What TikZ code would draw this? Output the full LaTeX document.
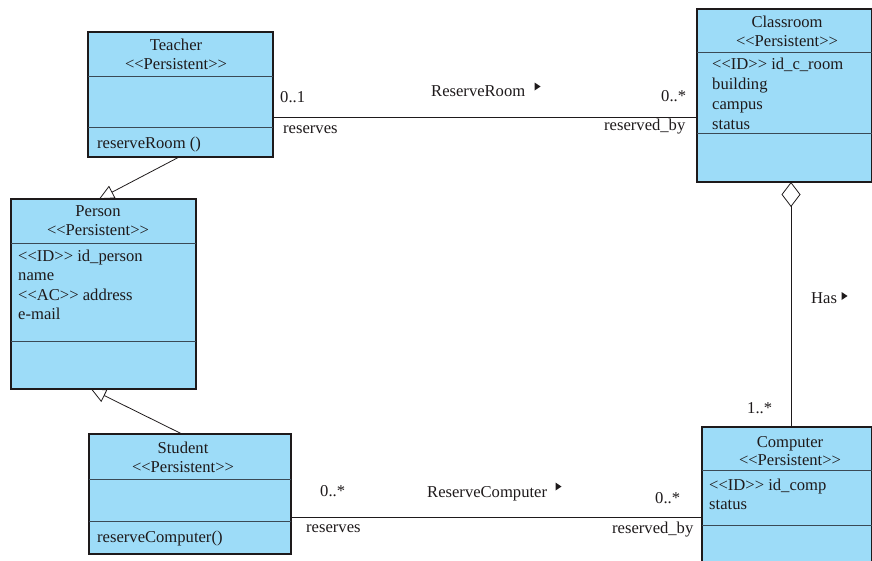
\documentclass[tikz,border=0pt]{standalone}
\usepackage{fontspec}
\setmainfont{Liberation Serif}[Ligatures=TeXOff]
\usetikzlibrary{arrows.meta}
\definecolor{boxfill}{HTML}{9DDCF8}
\definecolor{ink}{HTML}{1E1A1B}
\definecolor{rulecol}{HTML}{3A4A56}

\begin{document}
\begin{tikzpicture}[x=1pt,y=-1pt,
  font=\fontsize{16.6}{19}\selectfont, text=ink,
  classbox/.style={draw=ink, line width=1.2pt, fill=boxfill, anchor=north west,
    inner sep=0pt, outer sep=0pt},
  divider/.style={draw=rulecol, line width=0.9pt},
  cname/.style={inner sep=0pt, anchor=base},
  attr/.style={inner sep=0pt, anchor=base west},
  lbl/.style={inner sep=0pt, anchor=base west},
  assoc/.style={draw=ink, line width=0.8pt},
  gen/.style={draw=ink, line width=0.8pt,
    -{Triangle[open, length=15pt, width=14pt, line width=0.8pt]}},
  agg/.style={draw=ink, line width=0.8pt,
    {Diamond[open, length=25pt, width=19pt, line width=0.8pt]}-},
  dirmark/.style={fill=ink, draw=none},
]
\useasboundingbox (0,0) rectangle (872,560);
\clip (0,0) rectangle (872,560);

% ---------- Teacher ----------
\node[classbox, minimum width=185pt, minimum height=125pt] (teacher) at (88,32) {};
\draw[divider] (teacher.west |- 0,76) -- (teacher.east |- 0,76);
\draw[divider] (teacher.west |- 0,127) -- (teacher.east |- 0,127);
\node[cname] (teacherName) at (176,50) {Teacher};
\node[cname] (teacherSt) at (176,69) {<<Persistent>>};
\node[attr] (teacherOp) at (97,148) {reserveRoom ()};

% ---------- Person ----------
\node[classbox, minimum width=185pt, minimum height=190pt] (person) at (11,199) {};
\draw[divider] (person.west |- 0,243) -- (person.east |- 0,243);
\draw[divider] (person.west |- 0,341) -- (person.east |- 0,341);
\node[cname] (personName) at (98,216) {Person};
\node[cname] (personSt) at (98,235) {<<Persistent>>};
\node[attr] (pa1) at (18,261) {<<ID>> id\_person};
\node[attr] (pa2) at (18,280) {name};
\node[attr] (pa3) at (18,300) {<<AC>> address};
\node[attr] (pa4) at (18,319) {e-mail};

% ---------- Student ----------
\node[classbox, minimum width=202pt, minimum height=120pt] (student) at (89,434) {};
\draw[divider] (student.west |- 0,479) -- (student.east |- 0,479);
\draw[divider] (student.west |- 0,521) -- (student.east |- 0,521);
\node[cname] (studentName) at (183,453) {Student};
\node[cname] (studentSt) at (183,472) {<<Persistent>>};
\node[attr] (studentOp) at (97,542) {reserveComputer()};

% ---------- Classroom ----------
\node[classbox, minimum width=175pt, minimum height=173pt] (classroom) at (697,9) {};
\draw[divider] (classroom.west |- 0,52) -- (classroom.east |- 0,52);
\draw[divider] (classroom.west |- 0,133) -- (classroom.east |- 0,133);
\node[cname] (classroomName) at (787,27) {Classroom};
\node[cname] (classroomSt) at (787,46) {<<Persistent>>};
\node[attr] (ca1) at (712,69) {<<ID>> id\_c\_room};
\node[attr] (ca2) at (712,89) {building};
\node[attr] (ca3) at (712,109) {campus};
\node[attr] (ca4) at (712,129) {status};

% ---------- Computer ----------
\node[classbox, minimum width=170pt, minimum height=150pt] (computer) at (702,427) {};
\draw[divider] (computer.west |- 0,470) -- (computer.east |- 0,470);
\draw[divider] (computer.west |- 0,525) -- (computer.east |- 0,525);
\node[cname] (computerName) at (790,447) {Computer};
\node[cname] (computerSt) at (790,465) {<<Persistent>>};
\node[attr] (cpa1) at (709,490) {<<ID>> id\_comp};
\node[attr] (cpa2) at (709,509) {status};

% ---------- Generalisations ----------
\coordinate (teacherFoot) at (178,157.6);
\coordinate (personTopTip) at (99,199);
\coordinate (studentHead) at (182,434);
\coordinate (personBotTip) at (91,389);
\draw[gen] (teacherFoot) -- (personTopTip);
\draw[gen] (studentHead) -- (personBotTip);

% ---------- ReserveRoom ----------
\draw[assoc] (teacher.east |- 0,117) -- (classroom.west |- 0,117);
\node[lbl] (rrMultL) at (280,102) {0..1};
\node[lbl] (rrRoleL) at (283,133) {reserves};
\node[lbl] (rrName) at (431,96) {ReserveRoom};
\fill[dirmark] (534.5,82.5) -- (540.5,86.5) -- (534.5,90.5) -- cycle;
\node[lbl] (rrMultR) at (661,101) {0..*};
\node[lbl] (rrRoleR) at (604,130) {reserved\_by};

% ---------- ReserveComputer ----------
\draw[assoc] (student.east |- 0,517) -- (computer.west |- 0,517);
\node[lbl] (rcMultL) at (320,496) {0..*};
\node[lbl] (rcRoleL) at (306,532) {reserves};
\node[lbl] (rcName) at (427,497) {ReserveComputer};
\fill[dirmark] (555.5,482.5) -- (561.5,486.5) -- (555.5,490.5) -- cycle;
\node[lbl] (rcMultR) at (655,503) {0..*};
\node[lbl] (rcRoleR) at (612,533) {reserved\_by};

% ---------- Has (aggregation) ----------
\draw[agg] (classroom.south -| 791,0) -- (computer.north -| 791,0);
\node[lbl] (hasName) at (811,303) {Has};
\fill[dirmark] (841.5,292) -- (847.5,296) -- (841.5,300) -- cycle;
\node[lbl] (hasMult) at (747,413) {1..*};
\end{tikzpicture}
\end{document}
